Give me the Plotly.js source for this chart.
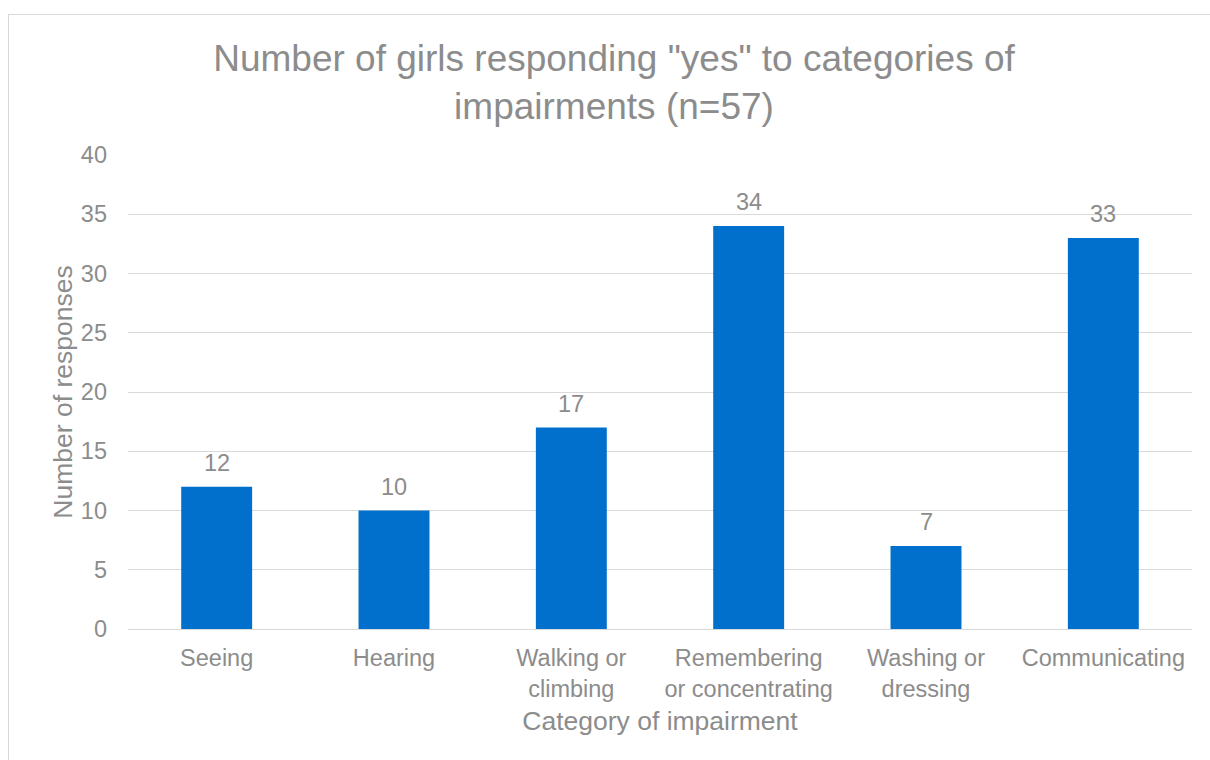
<!DOCTYPE html>
<html>
<head>
<meta charset="utf-8">
<script src="https://cdn.plot.ly/plotly-3.0.1.min.js"></script>
<style>
  html, body { margin: 0; padding: 0; background: #ffffff; overflow: hidden; }
  #chart { position: absolute; left: 0; top: 0; width: 1210px; height: 760px; }
  #frame { position: absolute; left: 8px; top: 14px; width: 1300px; height: 900px;
           border: 1px solid #d9d9d9; pointer-events: none; }
</style>
</head>
<body>
<div id="chart"></div>
<div id="frame"></div>
<script>
const categories = ["Seeing", "Hearing", "Walking or<br>climbing", "Remembering<br>or concentrating", "Washing or<br>dressing", "Communicating"];
const responses = [12, 10, 17, 34, 7, 33];
const yTickValues = [0, 5, 10, 15, 20, 25, 30, 35, 40];

const FONT = "Liberation Sans, Arial, sans-serif";
const GREY = "#8c8c8c";

const trace = {
  type: "bar",
  x: categories,
  y: responses,
  marker: { color: "#0070cc" },
  hoverinfo: "x+y"
};

const annotations = categories.map((c, i) => ({
  x: c, y: responses[i], xref: "x", yref: "y",
  text: String(responses[i]), showarrow: false,
  yanchor: "bottom", yshift: 9,
  font: { family: FONT, size: 23.5, color: GREY }
}));

const layout = {
  width: 1210, height: 760,
  paper_bgcolor: "rgba(0,0,0,0)", plot_bgcolor: "#ffffff",
  margin: { l: 128, r: 18, t: 155, b: 131 },
  font: { family: FONT, color: GREY },
  bargap: 0.6,
  showlegend: false,
  title: {
    text: 'Number of girls responding "yes" to categories of<br>impairments (n=57)',
    font: { family: FONT, size: 37, color: GREY },
    xref: "container", x: 614 / 1210, xanchor: "center",
    yref: "container", y: 1 - 71 / 760, yanchor: "top"
  },
  xaxis: {
    type: "category",
    tickfont: { family: FONT, size: 23.5, color: GREY },
    ticks: "", ticklabelstandoff: 8,
    showline: true, linecolor: "#d9d9d9", linewidth: 1,
    showgrid: false, automargin: false,
    title: { text: "Category of impairment", font: { family: FONT, size: 26.5, color: GREY }, standoff: 10 }
  },
  yaxis: {
    range: [0, 40], tickvals: yTickValues, ticktext: yTickValues.map(String),
    tickfont: { family: FONT, size: 23.5, color: GREY },
    ticks: "", ticklabelstandoff: 20,
    showgrid: true, gridcolor: "#d9d9d9", gridwidth: 1,
    zeroline: false, showline: false, automargin: false,
    title: { text: "Number of responses", font: { family: FONT, size: 26.5, color: GREY }, standoff: 0 }
  },
  annotations: annotations
};

Plotly.newPlot("chart", [trace], layout, { displayModeBar: false, staticPlot: true });
</script>
</body>
</html>
